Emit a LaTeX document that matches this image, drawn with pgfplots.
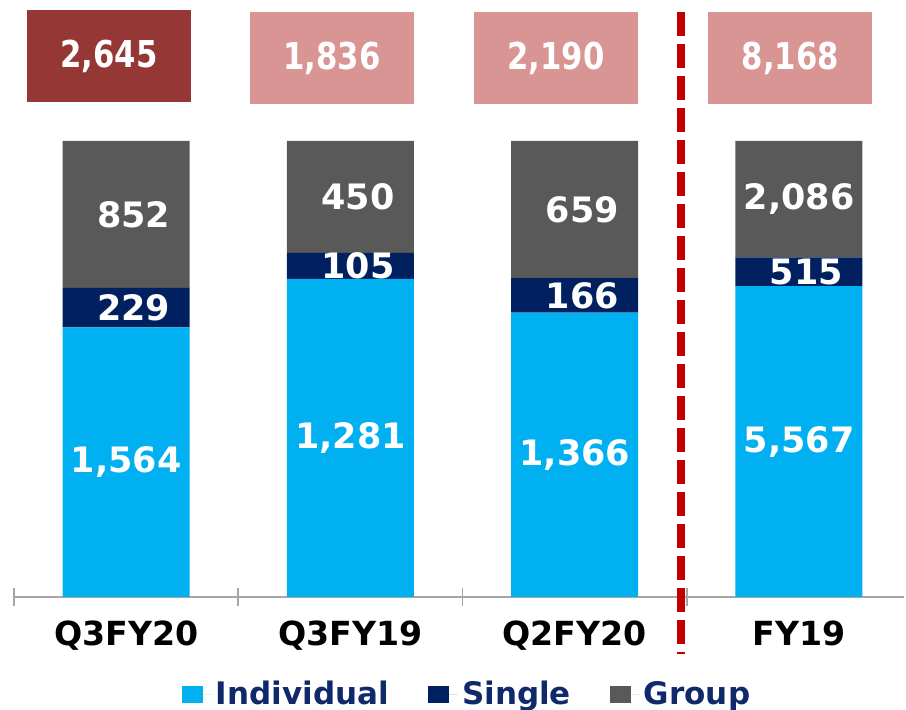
\documentclass[border=0pt]{standalone}
\usepackage{fontspec}
\setmainfont{DejaVu Sans}
\usepackage{graphicx}
\usepackage{pgfplots}
\usepackage{pgfplotstable}
\pgfplotsset{compat=1.18}
\definecolor{cInd}{HTML}{00B0F0}
\definecolor{cSin}{HTML}{002060}
\definecolor{cGrp}{HTML}{595959}
\definecolor{boxDark}{HTML}{953735}
\definecolor{boxPink}{HTML}{D99594}
\definecolor{dashRed}{HTML}{C00000}
\definecolor{legNavy}{HTML}{10296A}
\definecolor{axGray}{HTML}{A6A6A6}
% shares (%) of each segment, raw values, and segment mid-heights
\pgfplotstableread{
x I S G Iv Sv Gv Ic Sc Gc
0 59.13 8.66 32.21 1564 229 852 29.565 63.46 83.895
1 69.77 5.72 24.51 1281 105 450 34.885 72.63 87.745
2 62.35 7.58 30.08 1366 166 659 31.175 66.14 84.965
3 68.16 6.31 25.54 5567 515 2086 34.08 71.315 87.235
}\data
\pgfplotsset{
  common/.style={
    scale only axis,
    width=445.2pt, height=228pt,
    xmin=-0.5, xmax=3.47, ymin=0, ymax=100,
    clip=false,
  },
}
\tikzset{
  totbox/.style={minimum width=82pt, minimum height=46pt, inner sep=0pt, text=white, font=\fontsize{18.5}{21}\selectfont\bfseries},
}
\begin{document}
\begin{tikzpicture}
\useasboundingbox (-7pt,-56.5pt) rectangle (446pt,298.5pt);
\begin{axis}[
  common,
  ybar stacked, bar width=63.5pt,
  axis x line=bottom, axis y line=none,
  x axis line style={-, draw=axGray, line width=0.8pt},
  xtick={0,1,2,3},
  xticklabels={Q3FY20,Q3FY19,Q2FY20,FY19},
  minor xtick={-0.5,0.5,1.5,2.5},
  major tick length=0pt, minor tick length=9pt,
  xtick align=center,
  minor tick style={draw=axGray, line width=0.8pt},
  xticklabel style={anchor=base, yshift=-24.5pt, font=\fontsize{16.6}{19}\selectfont\bfseries, text=black},
  legend columns=3,
  legend image code/.code={\fill[#1] (0pt,-4.25pt) rectangle (10.5pt,4.25pt); \path (0pt,0pt) -- (15pt,0pt);},
  legend style={at={(0.510,-0.214)}, anchor=center, draw=none, fill=none,
    font=\fontsize{15.5}{18}\selectfont\bfseries, text=legNavy,
    /tikz/every even column/.append style={column sep=17.5pt}},
]
\addplot[fill=cInd, draw=none] table[x=x, y=I]{\data};
\addlegendentry{Individual}
\addplot[fill=cSin, draw=none] table[x=x, y=S]{\data};
\addlegendentry{Single}
\addplot[fill=cGrp, draw=none] table[x=x, y=G]{\data};
\addlegendentry{Group}
\end{axis}
% segment value labels, total boxes, separator
\begin{axis}[
  common, hide axis,
  /pgf/number format/assume math mode=true,
  /pgf/number format/1000 sep={,},
  nodes near coords,
  point meta=explicit,
  every node near coord/.append style={anchor=center, font=\fontsize{17.5}{20}\selectfont\bfseries, text=white},
]
\addplot[only marks, mark=none] table[x=x, y=Ic, meta=Iv]{\data};
\addplot[only marks, mark=none, every node near coord/.append style={xshift=3.75pt}] table[x=x, y=Sc, meta=Sv]{\data};
\addplot[only marks, mark=none, restrict x to domain=0:2, every node near coord/.append style={xshift=3.75pt}] table[x=x, y=Gc, meta=Gv]{\data};
\addplot[only marks, mark=none, restrict x to domain=2.5:3.5] table[x=x, y=Gc, meta=Gv]{\data};
\draw[dashRed, line width=4pt, dash pattern=on 12pt off 4pt] (axis cs:2.474,128.3) -- (axis cs:2.474,-12.5);
\node[totbox, fill=boxDark, xshift=-8.6pt, yshift=42.5pt] at (axis cs:0,100) {\scalebox{0.83}[1]{2,645}};
\node[totbox, fill=boxPink, xshift=-9.2pt, yshift=41.5pt] at (axis cs:1,100) {\scalebox{0.83}[1]{1,836}};
\node[totbox, fill=boxPink, xshift=-9.4pt, yshift=41.5pt] at (axis cs:2,100) {\scalebox{0.83}[1]{2,190}};
\node[totbox, fill=boxPink, xshift=-4.3pt, yshift=41.3pt] at (axis cs:3,100) {\scalebox{0.83}[1]{8,168}};
\end{axis}
\end{tikzpicture}
\end{document}
